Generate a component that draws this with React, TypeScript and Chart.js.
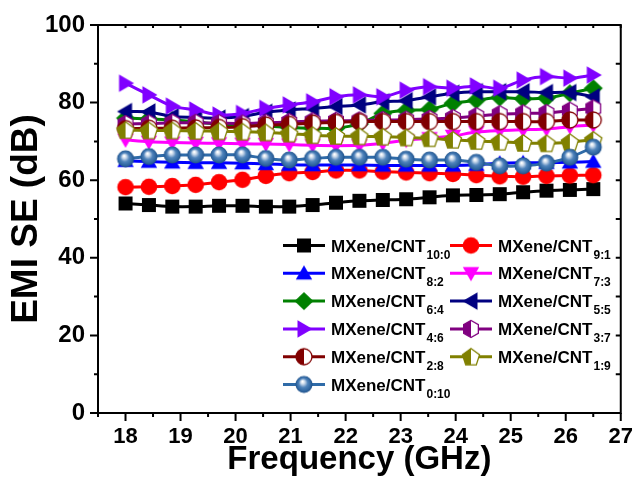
import React, { useEffect, useRef } from "react";
import { Chart, registerables } from "chart.js";
Chart.register(...registerables);

// ---------- data ----------
const frequencies = [18.0, 18.425, 18.85, 19.275, 19.7, 20.125, 20.55, 20.975, 21.4, 21.825, 22.25, 22.675, 23.1, 23.525, 23.95, 24.375, 24.8, 25.225, 25.65, 26.075, 26.5];

const ratioLabels = ["10:0", "9:1", "8:2", "7:3", "6:4", "5:5", "4:6", "3:7", "2:8", "1:9", "0:10"];

const se_10_0 = [54.0, 53.6, 53.2, 53.2, 53.4, 53.4, 53.2, 53.2, 53.6, 54.2, 54.7, 54.9, 55.1, 55.6, 56.1, 56.2, 56.4, 56.9, 57.3, 57.5, 57.7];
const se_9_1 = [58.2, 58.3, 58.5, 58.8, 59.5, 60.1, 61.1, 61.8, 62.1, 62.5, 62.5, 62.2, 62.0, 61.8, 61.6, 61.3, 61.0, 60.9, 61.1, 61.2, 61.3];
const se_8_2 = [65.0, 64.8, 64.6, 64.5, 64.5, 64.4, 64.2, 64.0, 63.9, 63.9, 63.9, 63.8, 63.8, 63.8, 63.8, 64.0, 64.4, 64.5, 64.5, 64.6, 64.8];
const se_7_3 = [70.4, 69.9, 69.7, 69.6, 69.5, 69.4, 69.3, 69.2, 69.0, 68.9, 69.0, 69.5, 70.3, 70.8, 71.4, 72.4, 72.8, 73.0, 73.2, 73.8, 74.2];
const se_6_4 = [76.0, 75.8, 75.5, 75.0, 74.5, 74.2, 74.0, 73.6, 73.4, 73.4, 74.5, 77.2, 78.0, 78.3, 79.8, 80.6, 81.3, 81.0, 81.2, 82.4, 83.7];
const se_5_5 = [77.7, 77.6, 76.4, 76.2, 76.0, 76.4, 77.5, 78.1, 78.5, 79.0, 79.4, 80.2, 80.5, 81.5, 82.4, 82.8, 82.8, 82.8, 82.6, 82.6, 81.5];
const se_4_6 = [85.0, 82.0, 79.1, 78.1, 76.8, 77.2, 78.5, 79.4, 80.2, 81.5, 82.0, 81.5, 83.2, 84.1, 83.7, 84.3, 83.7, 85.8, 86.7, 86.3, 87.1];
const se_3_7 = [74.5, 74.6, 74.8, 74.8, 74.7, 74.6, 74.8, 75.0, 75.2, 75.3, 75.4, 75.5, 75.6, 75.8, 76.0, 76.5, 77.0, 77.2, 77.3, 77.9, 78.5];
const se_2_8 = [73.3, 73.4, 73.4, 73.5, 73.6, 73.8, 74.2, 74.4, 74.7, 74.9, 75.1, 75.1, 75.1, 75.1, 75.1, 75.1, 75.1, 75.1, 75.1, 75.5, 75.5];
const se_1_9 = [72.9, 72.8, 72.8, 72.7, 72.6, 72.5, 72.3, 72.0, 71.6, 71.4, 71.3, 71.2, 71.0, 70.8, 70.4, 70.1, 69.9, 69.6, 69.5, 69.8, 70.4];
const se_0_10 = [65.5, 66.1, 66.5, 66.5, 66.5, 66.5, 65.6, 65.2, 65.6, 65.9, 65.9, 65.9, 65.4, 65.2, 65.2, 64.6, 63.7, 63.7, 64.4, 65.9, 68.5];

const seriesValues = [se_10_0, se_9_1, se_8_2, se_7_3, se_6_4, se_5_5, se_4_6, se_3_7, se_2_8, se_1_9, se_0_10];

const xTickValues = [18, 19, 20, 21, 22, 23, 24, 25, 26, 27];
const yTickValues = [0, 20, 40, 60, 80, 100];

// ---------- styles ----------
const seriesColors = ["#000000", "#FF0000", "#0000FF", "#FF00FF", "#008000", "#000080", "#8000FF", "#800080", "#800000", "#808000", "#2F6BA8"];
const markerKinds = ["square", "circle", "triUp", "triDown", "diamond", "triLeft", "triRight", "halfHex", "halfCircle", "halfPent", "sphere"];
const FONT = "'Liberation Sans', Arial, sans-serif";

function poly(g: CanvasRenderingContext2D, pts: number[][]) {
  g.beginPath();
  g.moveTo(pts[0][0], pts[0][1]);
  for (let i = 1; i < pts.length; i++) g.lineTo(pts[i][0], pts[i][1]);
  g.closePath();
}

function regular(m: number, r: number, n: number, start: number) {
  const pts: number[][] = [];
  for (let i = 0; i < n; i++) {
    const a = start + (i * 2 * Math.PI) / n;
    pts.push([m + r * Math.cos(a), m + r * Math.sin(a)]);
  }
  return pts;
}

function makeMarker(kind: string, color: string): HTMLCanvasElement {
  const S = 24;
  const m = S / 2;
  const c = document.createElement("canvas");
  c.width = S;
  c.height = S;
  const g = c.getContext("2d")!;
  g.fillStyle = color;
  g.strokeStyle = color;
  const halfFill = (pts: number[][] | null, r: number) => {
    const path = () => {
      if (pts) poly(g, pts);
      else {
        g.beginPath();
        g.arc(m, m, r, 0, Math.PI * 2);
      }
    };
    path();
    g.fillStyle = "#ffffff";
    g.fill();
    g.save();
    g.beginPath();
    g.rect(0, 0, m, S);
    g.clip();
    path();
    g.fillStyle = color;
    g.fill();
    g.restore();
    path();
    g.lineWidth = 1.3;
    g.strokeStyle = color;
    g.stroke();
  };
  switch (kind) {
    case "square":
      g.fillRect(m - 7, m - 7, 14, 14);
      break;
    case "circle":
      g.beginPath();
      g.arc(m, m, 8.3, 0, Math.PI * 2);
      g.fill();
      break;
    case "triUp":
      poly(g, regular(m, 9.5, 3, -Math.PI / 2).map((p) => [p[0], p[1] + 1.5]));
      g.fill();
      break;
    case "triDown":
      poly(g, regular(m, 9.5, 3, Math.PI / 2).map((p) => [p[0], p[1] - 1.5]));
      g.fill();
      break;
    case "triLeft":
      poly(g, regular(m, 10, 3, Math.PI).map((p) => [p[0] + 1.5, p[1]]));
      g.fill();
      break;
    case "triRight":
      poly(g, regular(m, 10, 3, 0).map((p) => [p[0] - 1.5, p[1]]));
      g.fill();
      break;
    case "diamond":
      poly(g, [[m, m - 9], [m + 9.5, m], [m, m + 9], [m - 9.5, m]]);
      g.fill();
      break;
    case "halfHex":
      halfFill(regular(m, 8.5, 6, -Math.PI / 2), 0);
      break;
    case "halfCircle":
      halfFill(null, 8);
      break;
    case "halfPent":
      halfFill(regular(m, 9, 5, -Math.PI / 2).map((p) => [p[0], p[1] + 0.8]), 0);
      break;
    case "sphere": {
      const grd = g.createRadialGradient(m - 1.5, m - 3, 0.5, m, m, 8.5);
      grd.addColorStop(0, "#ffffff");
      grd.addColorStop(0.2, "#c9d8ea");
      grd.addColorStop(0.5, "#4f83bb");
      grd.addColorStop(0.85, "#2c639e");
      grd.addColorStop(1, "#1f4f86");
      g.beginPath();
      g.arc(m, m, 8.5, 0, Math.PI * 2);
      g.fillStyle = grd;
      g.fill();
      break;
    }
  }
  return c;
}

export default function App() {
  const canvasRef = useRef<HTMLCanvasElement | null>(null);

  useEffect(() => {
    const canvas = canvasRef.current;
    if (!canvas) return;
    const markers = markerKinds.map((k, i) => makeMarker(k, seriesColors[i]));

    const datasets = seriesValues.map((vals, i) => ({
      label: "MXene/CNT " + ratioLabels[i],
      data: frequencies.map((f, j) => ({ x: f, y: vals[j] })),
      borderColor: seriesColors[i],
      backgroundColor: seriesColors[i],
      borderWidth: 3,
      tension: 0.3,
      pointStyle: markers[i] as any,
      pointRadius: 9,
      order: seriesValues.length - i,
    }));

    const framePlugin = {
      id: "frameAndLegend",
      afterDatasetsDraw(chart: any) {
        const ctx: CanvasRenderingContext2D = chart.ctx;
        const { left, right, top, bottom } = chart.chartArea;
        const xs = chart.scales.x;
        const ys = chart.scales.y;
        ctx.save();
        ctx.strokeStyle = "#000";
        ctx.lineWidth = 2;
        ctx.strokeRect(left, top, right - left, bottom - top);
        // y ticks
        for (let v = 0; v <= 100; v += 10) {
          const py = ys.getPixelForValue(v);
          const len = v % 20 === 0 ? 8 : 4;
          ctx.beginPath();
          ctx.moveTo(left - len, py);
          ctx.lineTo(left, py);
          ctx.moveTo(right, py);
          ctx.lineTo(right - 5, py);
          ctx.stroke();
        }
        // x ticks
        for (let v = 17.5; v <= 27.001; v += 0.5) {
          const px = xs.getPixelForValue(v);
          const len = Math.abs(v - Math.round(v)) < 1e-6 ? 8 : 4;
          ctx.beginPath();
          ctx.moveTo(px, bottom);
          ctx.lineTo(px, bottom + len);
          ctx.moveTo(px, top);
          ctx.lineTo(px, top + 3);
          ctx.stroke();
        }
        // legend
        ratioLabels.forEach((r, i) => {
          const col = i % 2;
          const row = Math.floor(i / 2);
          const x0 = col === 0 ? 283 : 450;
          const y = 245.5 + row * 27.8;
          ctx.strokeStyle = seriesColors[i];
          ctx.lineWidth = 3;
          ctx.beginPath();
          ctx.moveTo(x0, y);
          ctx.lineTo(x0 + 42, y);
          ctx.stroke();
          const img = markers[i];
          ctx.drawImage(img, x0 + 21 - img.width / 2, y - img.height / 2);
          ctx.fillStyle = "#000";
          ctx.textAlign = "left";
          ctx.textBaseline = "alphabetic";
          ctx.font = `bold 17px ${FONT}`;
          ctx.fillText("MXene/CNT", x0 + 48, y + 6);
          const w = ctx.measureText("MXene/CNT").width;
          ctx.font = `bold 12px ${FONT}`;
          ctx.fillText(r, x0 + 48 + w + 1, y + 13);
        });
        ctx.restore();
      },
    };

    const chart = new Chart(canvas, {
      type: "line",
      data: { datasets: datasets as any },
      options: {
        animation: false,
        responsive: false,
        devicePixelRatio: 1,
        layout: { padding: { top: 25, right: 14, left: 0, bottom: 0 } },
        plugins: { legend: { display: false }, tooltip: { enabled: false } },
        scales: {
          x: {
            type: "linear",
            min: 17.5,
            max: 27,
            afterBuildTicks: (s: any) => {
              s.ticks = xTickValues.map((v) => ({ value: v }));
            },
            afterFit: (s: any) => {
              s.height = 78;
            },
            grid: { display: false, drawTicks: true, tickLength: 8 },
            border: { display: false },
            ticks: {
              color: "#000",
              padding: 3,
              maxRotation: 0,
              autoSkip: false,
              font: { family: FONT, size: 22, weight: "bold" },
            },
            title: {
              display: true,
              text: "Frequency (GHz)",
              color: "#000",
              font: { family: FONT, size: 33, weight: "bold" },
              padding: { top: 0, bottom: 11 },
            },
          },
          y: {
            type: "linear",
            min: 0,
            max: 100,
            afterBuildTicks: (s: any) => {
              s.ticks = yTickValues.map((v) => ({ value: v }));
            },
            afterFit: (s: any) => {
              s.width = 98;
            },
            grid: { display: false, drawTicks: true, tickLength: 8 },
            border: { display: false },
            ticks: {
              color: "#000",
              padding: 5,
              font: { family: FONT, size: 24, weight: "bold" },
            },
            title: {
              display: true,
              text: "EMI SE (dB)",
              color: "#000",
              font: { family: FONT, size: 37, weight: "bold" },
              padding: { top: 5, bottom: 0 },
            },
          },
        },
      },
      plugins: [framePlugin],
    });
    return () => chart.destroy();
  }, []);

  return (
    <div style={{ position: "absolute", left: 0, top: 0, width: 636, height: 491, background: "#fff" }}>
      <canvas ref={canvasRef} width={636} height={491} style={{ display: "block" }} />
    </div>
  );
}
